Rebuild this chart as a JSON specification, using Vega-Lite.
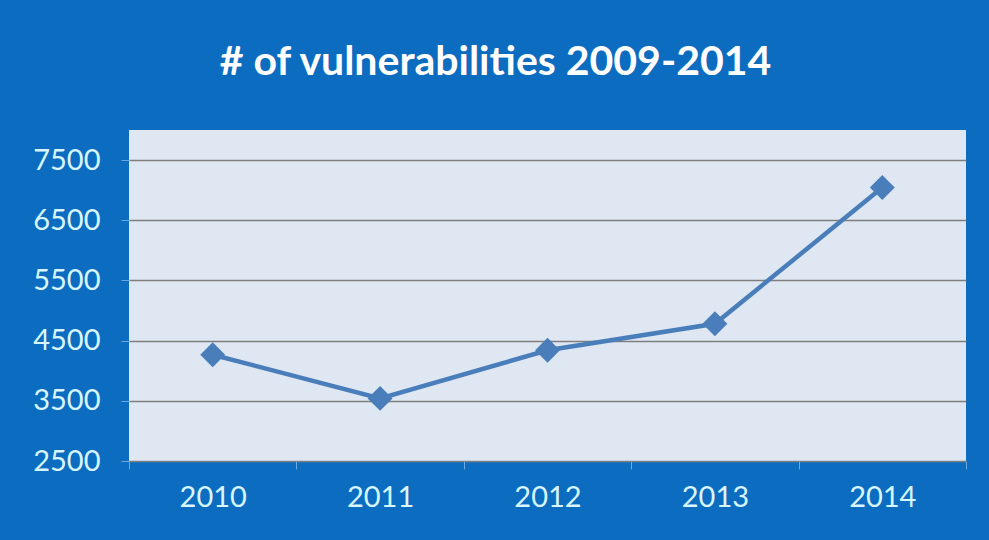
{
  "$schema": "https://vega.github.io/schema/vega-lite/v6.json",
  "width": 837,
  "height": 331,
  "autosize": {"type": "none"},
  "padding": {"left": 129, "top": 130, "right": 23, "bottom": 79},
  "background": "#0B6CC0",
  "title": {
    "text": "# of vulnerabilities 2009-2014",
    "color": "white",
    "font": "Lato",
    "fontSize": 41,
    "fontWeight": "bold",
    "anchor": "middle",
    "dx": -52,
    "offset": 46
  },
  "config": {"view": {"fill": "#DEE7F2", "stroke": null}},
  "data": {
    "values": [
      {"year": "2010", "count": 4266},
      {"year": "2011", "count": 3540},
      {"year": "2012", "count": 4340},
      {"year": "2013", "count": 4780},
      {"year": "2014", "count": 7045}
    ]
  },
  "encoding": {
    "x": {
      "field": "year",
      "type": "ordinal",
      "scale": {"type": "band", "paddingInner": 0, "paddingOuter": 0},
      "axis": {
        "title": null,
        "labelAngle": 0,
        "domain": false,
        "grid": false,
        "tickBand": "extent",
        "tickColor": "#6FA8DC",
        "tickSize": 8,
        "labelColor": "#D8F6FF",
        "labelFont": "Lato",
        "labelFontSize": 29,
        "labelPadding": 14
      }
    },
    "y": {
      "field": "count",
      "type": "quantitative",
      "scale": {"domain": [2500, 8000], "nice": false, "zero": false},
      "axis": {
        "title": null,
        "format": "d",
        "values": [2500, 3500, 4500, 5500, 6500, 7500],
        "domain": false,
        "gridColor": "#7F7F7F",
        "gridWidth": 1.5,
        "tickColor": "#6FA8DC",
        "tickSize": 8,
        "labelColor": "#D8F6FF",
        "labelFont": "Lato",
        "labelFontSize": 29,
        "labelPadding": 21
      }
    }
  },
  "layer": [
    {"mark": {"type": "line", "color": "#4A7EBB", "strokeWidth": 4.5}},
    {"mark": {"type": "point", "shape": "diamond", "filled": true, "size": 620, "color": "#4A7EBB", "opacity": 1}}
  ]
}
